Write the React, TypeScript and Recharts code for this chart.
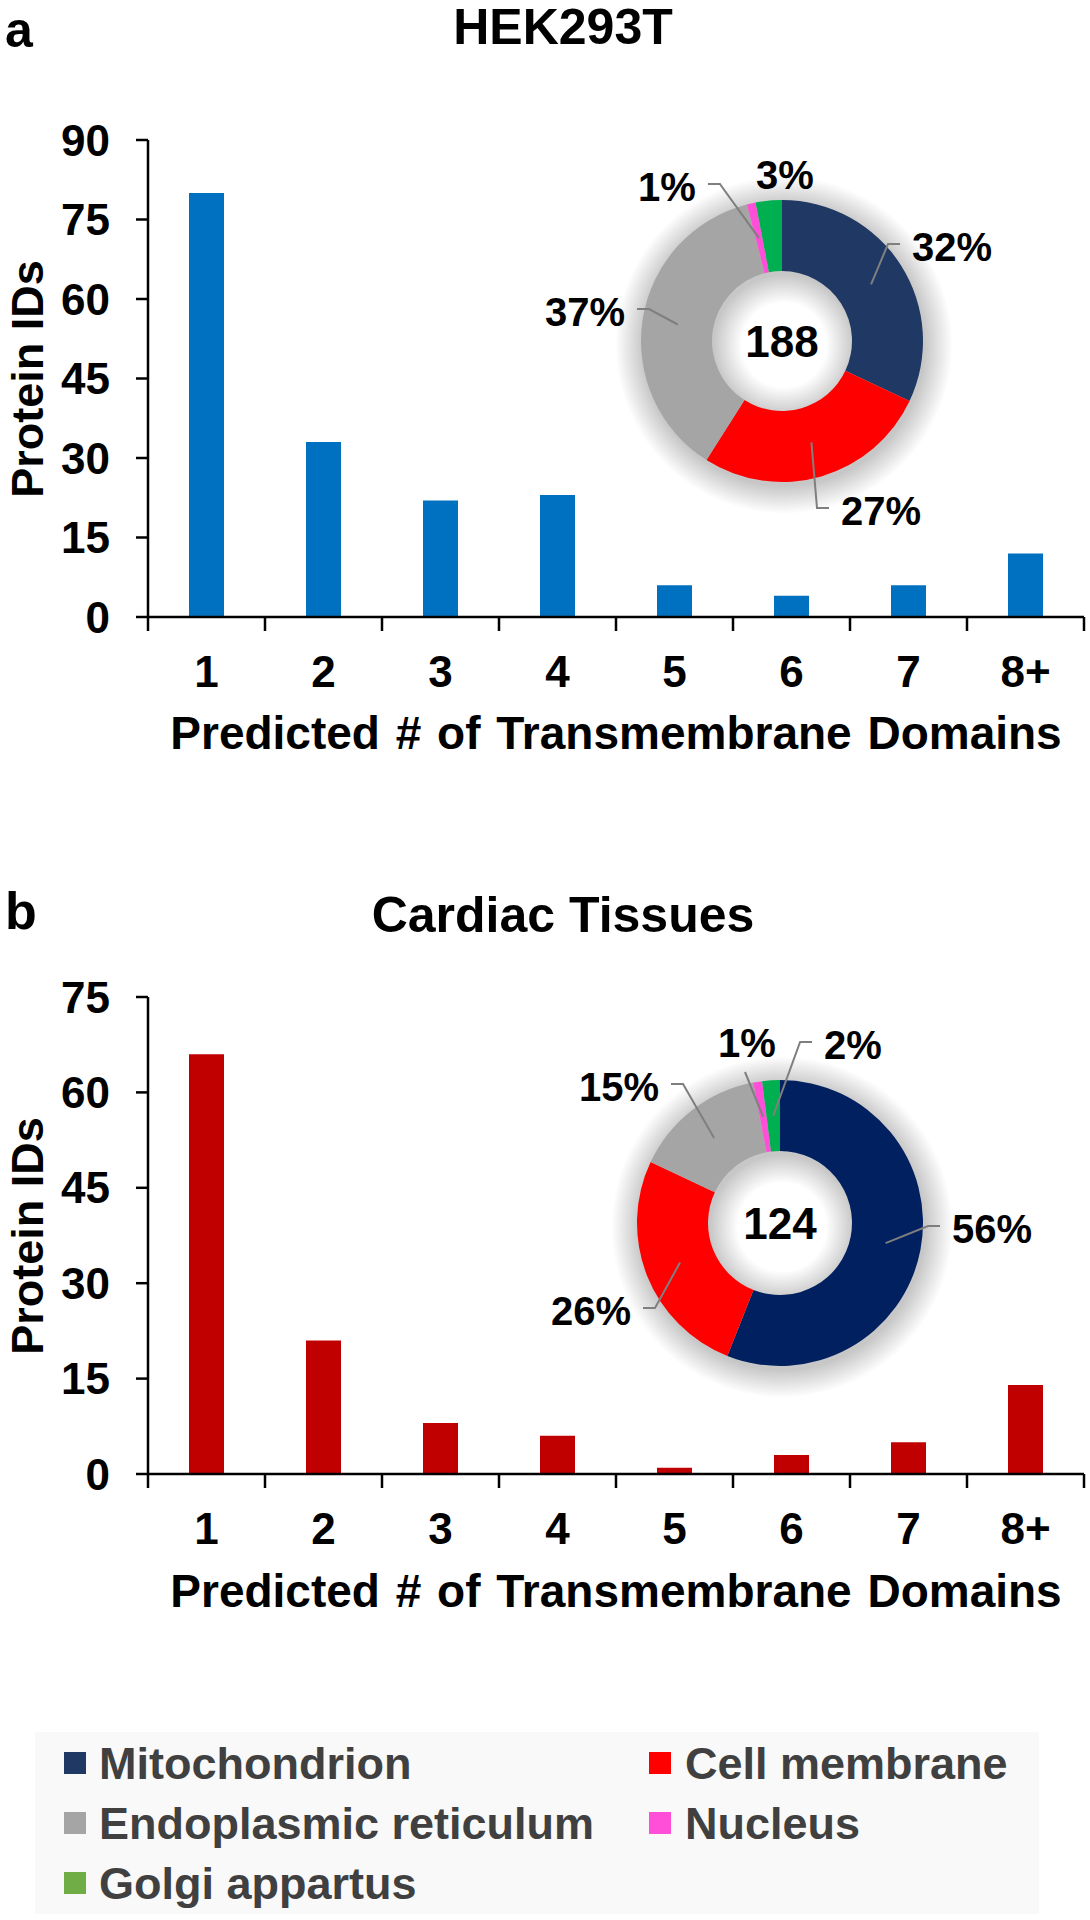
import React from "react";
import { BarChart, Bar, XAxis, YAxis, PieChart, Pie, Cell, Label } from "recharts";

// ---- data ----
const categories = ["1", "2", "3", "4", "5", "6", "7", "8+"];
const hekCounts = [80, 33, 22, 23, 6, 4, 6, 12];
const cardiacCounts = [66, 21, 8, 6, 1, 3, 5, 14];
const hekTicks = [0, 15, 30, 45, 60, 75, 90];
const cardiacTicks = [0, 15, 30, 45, 60, 75];

const locations = ["Mitochondrion", "Cell membrane", "Endoplasmic reticulum", "Nucleus", "Golgi appartus"];
const hekShares = [32, 27, 37, 1, 3];
const cardiacShares = [56, 26, 15, 1, 2];
const hekTotal = 188;
const cardiacTotal = 124;

// ---- styles ----
const FONT = '"Liberation Sans", Arial, Helvetica, sans-serif';
const hekBarColor = "#0070C0";
const cardiacBarColor = "#C00000";
const hekSliceColors = ["#203864", "#FF0000", "#A5A5A5", "#FF4FD8", "#00B050"];
const cardiacSliceColors = ["#002060", "#FF0000", "#A5A5A5", "#FF4FD8", "#00B050"];
const legendColors = ["#203864", "#FF0000", "#A5A5A5", "#FF4FD8", "#70AD47"];

const PLOT_LEFT = 148;
const PLOT_RIGHT = 1084;
const BAND = (PLOT_RIGHT - PLOT_LEFT) / categories.length;
const LABEL_FONT = 40;

// label placement relative to the pie centre, leader style
type LabelSpec = { dx: number; dy: number; leader: "left" | "right" | "below" | "none" };
const hekLabelLayout: LabelSpec[] = [
  { dx: 170, dy: -94, leader: "left" },
  { dx: 99, dy: 170, leader: "left" },
  { dx: -197, dy: -29, leader: "right" },
  { dx: -115, dy: -154, leader: "right" },
  { dx: 3, dy: -166, leader: "none" },
];
const cardiacLabelLayout: LabelSpec[] = [
  { dx: 212, dy: 6, leader: "left" },
  { dx: -189, dy: 88, leader: "right" },
  { dx: -161, dy: -136, leader: "right" },
  { dx: -33, dy: -180, leader: "below" },
  { dx: 73, dy: -178, leader: "left" },
];

// soft halo around each donut, as concentric translucent rings
const haloSteps = [0, 1, 2, 3, 4, 5, 6, 7, 8, 9, 10, 11, 12, 13];

function CategoryTick(props: any) {
  const { x, y, payload, index } = props;
  const left = x - BAND / 2;
  return (
    <g>
      <line x1={left} x2={left} y1={y} y2={y + 14} stroke="#000" strokeWidth={2.5} />
      {index === categories.length - 1 && (
        <line x1={left + BAND} x2={left + BAND} y1={y} y2={y + 14} stroke="#000" strokeWidth={2.5} />
      )}
      <text x={x} y={y + 70} textAnchor="middle" fontSize={44} fontWeight={700} fill="#000">
        {payload.value}
      </text>
    </g>
  );
}

interface BarPanelProps {
  top: number;
  height: number;
  plotTop: number;
  plotBottom: number;
  counts: number[];
  ticks: number[];
  color: string;
}

function BarPanel({ top, height, plotTop, plotBottom, counts, ticks, color }: BarPanelProps) {
  const data = categories.map((c, i) => ({ category: c, count: counts[i] }));
  return (
    <div style={{ position: "absolute", left: 0, top }}>
      <BarChart width={1090} height={height} data={data} margin={{ top: plotTop, right: 1090 - PLOT_RIGHT, left: 0, bottom: 0 }}>
        <XAxis
          dataKey="category"
          interval={0}
          height={height - plotBottom}
          tickLine={false}
          tickSize={0}
          tickMargin={0}
          axisLine={{ stroke: "#000", strokeWidth: 2.5 }}
          tick={<CategoryTick />}
        />
        <YAxis
          width={PLOT_LEFT}
          domain={[ticks[0], ticks[ticks.length - 1]]}
          ticks={ticks}
          interval={0}
          tickSize={12}
          tickMargin={26}
          axisLine={{ stroke: "#000", strokeWidth: 2.5 }}
          tickLine={{ stroke: "#000", strokeWidth: 2.5 }}
          tick={{ fontSize: 44, fontWeight: 700, fill: "#000" }}
        />
        <Bar dataKey="count" fill={color} barSize={35} isAnimationActive={false} />
      </BarChart>
    </div>
  );
}

const makeLabel = (layout: LabelSpec[]) => (p: any) => {
  const spec = layout[p.index];
  const RAD = Math.PI / 180;
  const midR = (p.innerRadius + p.outerRadius) / 2;
  const ax = p.cx + midR * Math.cos(-p.midAngle * RAD);
  const ay = p.cy + midR * Math.sin(-p.midAngle * RAD);
  const lx = p.cx + spec.dx;
  const ly = p.cy + spec.dy;
  const text = `${p.value}%`;
  const half = ((text.length === 2 ? 1.445 : 2.0) * LABEL_FONT) / 2;
  let points = "";
  if (spec.leader === "left") {
    points = `${ax},${ay} ${lx - half - 24},${ly - 3} ${lx - half - 12},${ly - 3}`;
  } else if (spec.leader === "right") {
    points = `${ax},${ay} ${lx + half + 24},${ly - 3} ${lx + half + 12},${ly - 3}`;
  } else if (spec.leader === "below") {
    points = `${ax},${ay} ${lx - 2},${ly + 29}`;
  }
  return (
    <g key={`lbl-${p.index}`}>
      {points && <polyline points={points} fill="none" stroke="#7F7F7F" strokeWidth={2} />}
      <text x={lx} y={ly + 0.358 * LABEL_FONT} textAnchor="middle" fontSize={LABEL_FONT} fontWeight={700} fill="#000">
        {text}
      </text>
    </g>
  );
};

interface DonutProps {
  cx: number;
  cy: number;
  shares: number[];
  colors: string[];
  total: number;
  layout: LabelSpec[];
  innerRadius: number;
  outerRadius: number;
}

function Donut({ cx, cy, shares, colors, total, layout, innerRadius, outerRadius }: DonutProps) {
  const data = locations.map((name, i) => ({ name, value: shares[i] }));
  const boxW = 600;
  const boxH = 420;
  const pos = { position: "absolute" as const, left: cx - boxW / 2, top: cy - boxH / 2 };
  const midR = (innerRadius + outerRadius) / 2;
  const ring = outerRadius - innerRadius;
  return (
    <>
      <svg width={boxW} height={boxH} style={{ ...pos, zIndex: 1 }}>
        {haloSteps.map((s) => (
          <circle
            key={s}
            cx={boxW / 2 + 2}
            cy={boxH / 2 + 4}
            r={midR}
            fill="none"
            stroke="#000"
            strokeOpacity={0.016}
            strokeWidth={ring + 2 + s * 4}
          />
        ))}
      </svg>
      <div style={{ ...pos, zIndex: 2 }}>
        <PieChart width={boxW} height={boxH} margin={{ top: 0, right: 0, bottom: 0, left: 0 }}>
          <Pie
            data={data}
            dataKey="value"
            cx={boxW / 2}
            cy={boxH / 2}
            innerRadius={innerRadius}
            outerRadius={outerRadius}
            startAngle={90}
            endAngle={-270}
            stroke="none"
            labelLine={false}
            label={makeLabel(layout)}
            isAnimationActive={false}
          >
            {data.map((d, i) => (
              <Cell key={d.name} fill={colors[i]} />
            ))}
            <Label value={total} position="center" fontSize={44} fontWeight={700} fill="#000" />
          </Pie>
        </PieChart>
      </div>
    </>
  );
}

function Overlay() {
  const rows = [1763, 1823, 1883];
  return (
    <svg width={1090} height={1920} style={{ position: "absolute", left: 0, top: 0, pointerEvents: "none", zIndex: 3 }}>
      <g fontWeight={700} fill="#000">
        <text x={5} y={47} fontSize={50}>a</text>
        <text x={563} y={44} fontSize={50} textAnchor="middle">HEK293T</text>
        <text x={5} y={929} fontSize={52}>b</text>
        <text x={563} y={932} fontSize={50} textAnchor="middle">Cardiac Tissues</text>
        <text x={616} y={749} fontSize={46} textAnchor="middle" wordSpacing={3}>Predicted # of Transmembrane Domains</text>
        <text x={616} y={1607} fontSize={46} textAnchor="middle" wordSpacing={3}>Predicted # of Transmembrane Domains</text>
        <text transform="translate(43,379) rotate(-90)" fontSize={45} textAnchor="middle">Protein IDs</text>
        <text transform="translate(43,1236) rotate(-90)" fontSize={45} textAnchor="middle">Protein IDs</text>
      </g>
      <rect x={35} y={1732} width={1004} height={182} fill="#F9F9F9" />
      {locations.map((name, i) => {
        const col = i % 2;
        const yc = rows[Math.floor(i / 2)];
        return (
          <g key={name}>
            <rect x={col ? 649 : 64} y={yc - 11} width={22} height={22} fill={legendColors[i]} />
            <text x={col ? 685 : 99} y={yc + 16} fontSize={45} fontWeight={700} fill="#404040">
              {name}
            </text>
          </g>
        );
      })}
    </svg>
  );
}

export default function App() {
  return (
    <div style={{ position: "absolute", left: 0, top: 0, width: 1090, height: 1920, background: "#fff", fontFamily: FONT }}>
      <BarPanel top={0} height={780} plotTop={140} plotBottom={617} counts={hekCounts} ticks={hekTicks} color={hekBarColor} />
      <BarPanel top={780} height={800} plotTop={217} plotBottom={694} counts={cardiacCounts} ticks={cardiacTicks} color={cardiacBarColor} />
      <Donut cx={782} cy={341} shares={hekShares} colors={hekSliceColors} total={hekTotal} layout={hekLabelLayout} innerRadius={70} outerRadius={141} />
      <Donut cx={780} cy={1223} shares={cardiacShares} colors={cardiacSliceColors} total={cardiacTotal} layout={cardiacLabelLayout} innerRadius={72} outerRadius={143} />
      <Overlay />
    </div>
  );
}
